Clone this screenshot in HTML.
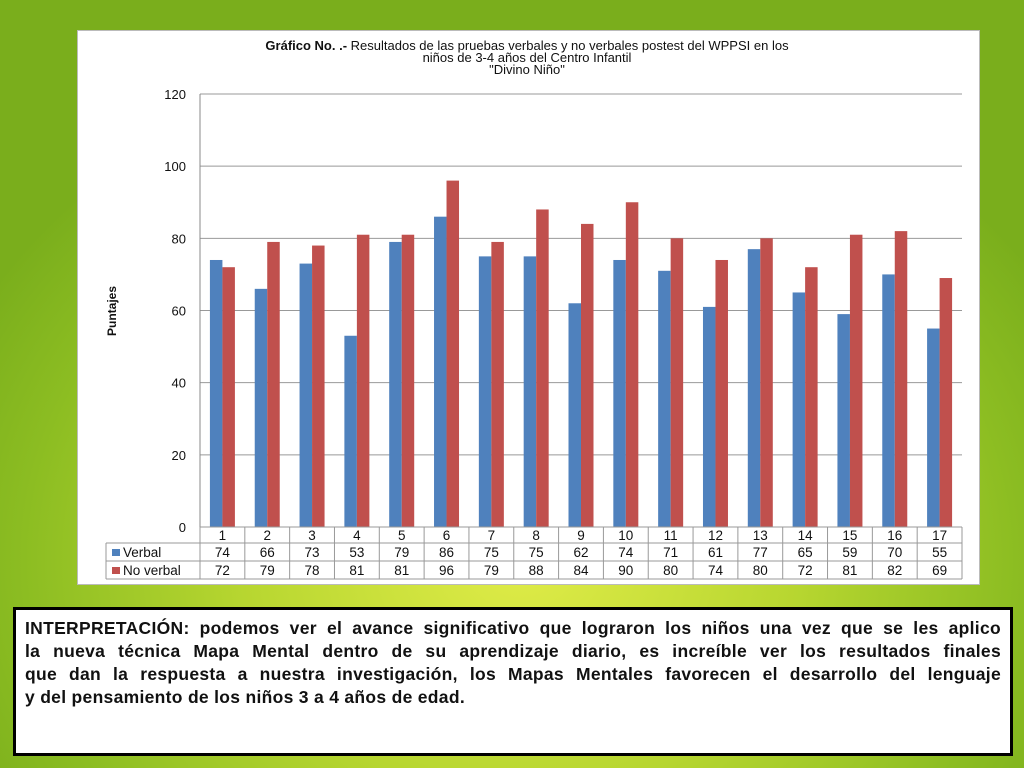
<!DOCTYPE html>
<html><head><meta charset="utf-8"><style>
html,body{margin:0;padding:0;width:1024px;height:768px;overflow:hidden;font-family:"Liberation Sans",sans-serif}
body{background:radial-gradient(ellipse 620px 520px at 520px 560px,#e0ec48 0%,#b7d630 45%,#8cbd22 80%,#7aae1c 100%)}
#panel{position:absolute;left:77px;top:30px;width:903px;height:555px;background:#fff;border:1px solid #bbb;box-sizing:border-box}
#textbox{position:absolute;left:13px;top:607px;width:1000px;height:149px;background:#fff;border:3px solid #000;box-sizing:border-box;padding:7px 9px 0 9px;font-weight:bold;font-size:17.5px;letter-spacing:0.3px;line-height:23px;color:#111}
#textbox .ln{display:block;white-space:nowrap;text-align:justify;text-align-last:justify}
#textbox .last{display:block;text-align:left}
</style></head><body>
<div id="panel"></div>
<svg id="chart" width="1024" height="768" style="position:absolute;left:0;top:0"></svg>
<div id="textbox"><span class="ln">INTERPRETACIÓN: podemos ver el avance significativo que lograron los niños una vez que se les aplico</span><span class="ln">la nueva técnica Mapa Mental dentro de su aprendizaje diario, es increíble ver los resultados finales</span><span class="ln">que dan la respuesta a nuestra investigación, los Mapas Mentales favorecen el desarrollo del lenguaje</span><span class="last">y del pensamiento de los niños 3 a 4 años de edad.</span></div>
<script>
const categories=["1","2","3","4","5","6","7","8","9","10","11","12","13","14","15","16","17"];
const verbal=[74,66,73,53,79,86,75,75,62,74,71,61,77,65,59,70,55];
const noVerbal=[72,79,78,81,81,96,79,88,84,90,80,74,80,72,81,82,69];
const yTicks=[0,20,40,60,80,100,120];
const seriesNames=["Verbal","No verbal"];
const NS="http://www.w3.org/2000/svg";
const svg=document.getElementById('chart');
const X0=200,X1=962,Y0=527,Y1=94,yMax=120;
const cw=(X1-X0)/categories.length;
const y=v=>Y0-(v/yMax)*(Y0-Y1);
const xc=i=>X0+cw*i;
function mk(t,a,txt){const e=document.createElementNS(NS,t);for(const k in a)e.setAttribute(k,a[k]);if(txt!==undefined)e.textContent=txt;svg.appendChild(e);return e;}
const tl=["Gráfico No. .- Resultados de las pruebas verbales y no verbales postest del WPPSI en los","niños de 3-4 años del Centro Infantil","\"Divino Niño\""];
tl.forEach((s,i)=>{let t;
if(i===0){t=mk('text',{x:527,y:50,'text-anchor':'middle','font-size':13,fill:'#111'});
const b=document.createElementNS(NS,'tspan');b.setAttribute('font-weight','bold');b.textContent="Gráfico No. .-";t.appendChild(b);
const r=document.createElementNS(NS,'tspan');r.textContent=" Resultados de las pruebas verbales y no verbales postest del WPPSI en los";t.appendChild(r);}
else t=mk('text',{x:527,y:50+12*i,'text-anchor':'middle','font-size':13,fill:'#111'},s);

});
yTicks.forEach(v=>{const l=mk('line',{x1:X0,x2:X1,y1:y(v),y2:y(v),stroke:v===0?'#888':'#999','stroke-width':1});


const t=mk('text',{x:186,y:y(v)+5,'text-anchor':'end','font-size':13,fill:'#111'},String(v));

});
const ax=mk('line',{x1:X0,x2:X0,y1:Y1,y2:Y0,stroke:'#888'});


const yt=mk('text',{x:0,y:0,transform:'translate(116,311) rotate(-90)','text-anchor':'middle','font-size':12,'font-weight':'bold',fill:'#111'},'Puntajes');


const bw=12.5;
categories.forEach((c,i)=>{const mid=xc(i)+cw/2;
const b1=mk('rect',{x:mid-bw,y:y(verbal[i]),width:bw,height:Y0-y(verbal[i]),fill:'#4f81bd'});


const b2=mk('rect',{x:mid,y:y(noVerbal[i]),width:bw,height:Y0-y(noVerbal[i]),fill:'#c0504d'});

});
const TL=106,R=[527,543,561,579];
[[X0,R[0],X1,R[0]],[TL,R[1],X1,R[1]],[TL,R[2],X1,R[2]],[TL,R[3],X1,R[3]],[TL,R[1],TL,R[3]]].forEach(a=>{const l=mk('line',{x1:a[0],y1:a[1],x2:a[2],y2:a[3],stroke:'#999'});

});
for(let i=0;i<=categories.length;i++){const l=mk('line',{x1:xc(i),x2:xc(i),y1:R[0],y2:R[3],stroke:'#999'});

}
categories.forEach((c,i)=>{const mid=xc(i)+cw/2;
const t=mk('text',{x:mid,y:540,'text-anchor':'middle','font-size':13.5,fill:'#111'},c);


const t1=mk('text',{x:mid,y:557,'text-anchor':'middle','font-size':13.5,fill:'#111'},String(verbal[i]));


const t2=mk('text',{x:mid,y:575,'text-anchor':'middle','font-size':13.5,fill:'#111'},String(noVerbal[i]));

});
[['#4f81bd',557],['#c0504d',575]].forEach((s,k)=>{const r=mk('rect',{x:112,y:s[1]-8,width:8,height:7,fill:s[0]});


const t=mk('text',{x:123,y:s[1],'font-size':13.5,fill:'#111'},seriesNames[k]);

});
</script>
</body></html>
